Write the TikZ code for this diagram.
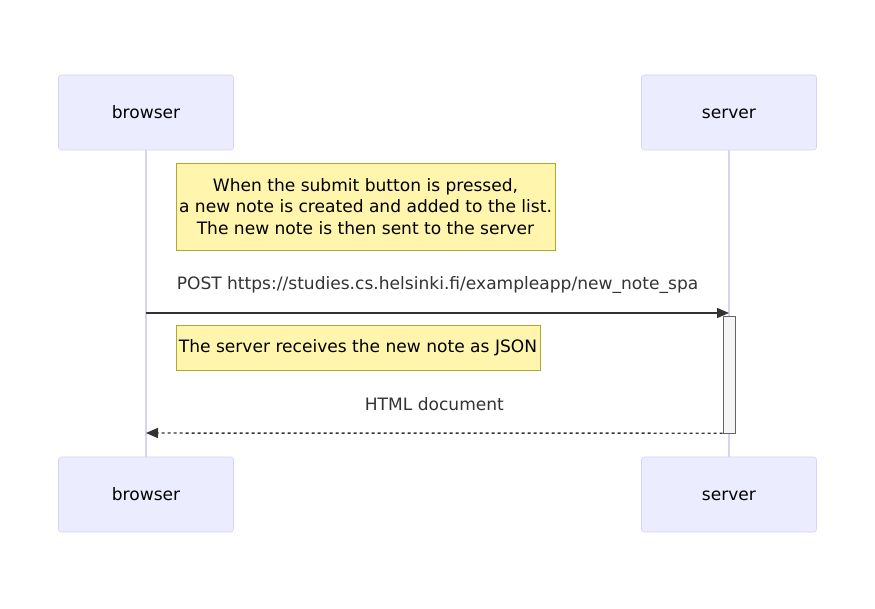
\documentclass[tikz,border=0pt]{standalone}
\usepackage{fontspec}
\setmainfont{DejaVu Sans}
\usetikzlibrary{arrows.meta, positioning}
\definecolor{actorfill}{HTML}{ECECFF}
\definecolor{actorline}{HTML}{DAD2F4}
\definecolor{notefill}{HTML}{FFF5AD}
\definecolor{noteline}{HTML}{AAAA33}
\definecolor{msgline}{HTML}{333333}
\tikzstyle{actor} = [rectangle, rounded corners=2pt, minimum width=131.25pt, minimum height=56.25pt, text height=2ex, text depth=0.4ex, text centered, draw=actorline, fill=actorfill, text=black]
\tikzstyle{note} = [rectangle, text centered, align=center, draw=noteline, fill=notefill, inner sep=0pt, text=black]
\tikzstyle{activation} = [rectangle, minimum width=9pt, minimum height=87.75pt, inner sep=0pt, draw=black!60, fill=black!4]
\tikzstyle{lifeline} = [draw=actorline, line width=1.5pt]
\tikzstyle{arrow} = [draw=msgline, line width=1.1pt, -{Triangle[length=9pt,width=7.5pt]}]
\tikzstyle{reply} = [arrow, dash pattern=on 2.25pt off 2.25pt]

\begin{document}
\begin{tikzpicture}[x=0.75pt, y=-0.75pt, font=\fontsize{12.8}{16.2}\selectfont, text=msgline]
\useasboundingbox (0,0) rectangle (875,609);

\node (browser) [actor] at (146,112.5) {browser};
\node (server) [actor] at (729,112.5) {server};
\node (browserend) [actor] at (146,494.5) {browser};
\node (serverend) [actor] at (729,494.5) {server};

\draw [lifeline] (browser) -- (browserend);
\draw [lifeline] (server) -- (serverend);

\node (created) [note, minimum width=284.25pt, minimum height=65.25pt] at (365.5,206.5) {When the submit button is pressed,\\a new note is created and added to the list.\\The new note is then sent to the server};

\node (active) [activation] at (729,374.5) {};

\coordinate (postfrom) at (146,313);
\coordinate (postto) at (729,313);
\draw [arrow] (postfrom) -- node[yshift=21pt] {POST https://studies.cs.helsinki.fi/exampleapp/new\_note\_spa} (postto);

\node (received) [note, minimum width=273pt, minimum height=33.75pt] at (358,347.5) {The server receives the new note as JSON};

\coordinate (htmlto) at (146,433);
\draw [reply] (active.south west) -- node[yshift=21.75pt] {HTML document} (htmlto);

\end{tikzpicture}
\end{document}
